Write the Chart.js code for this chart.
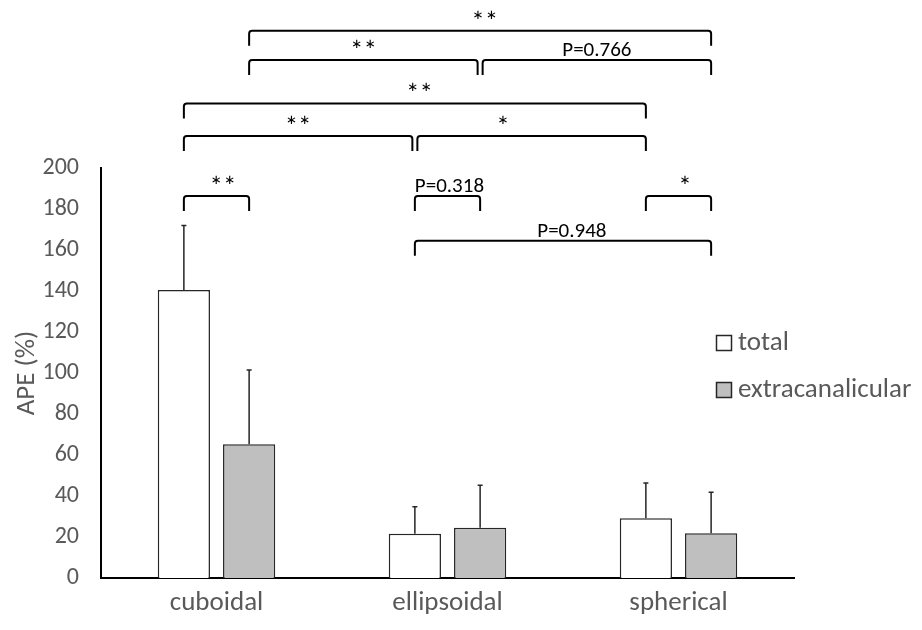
<!DOCTYPE html>
<html>
<head>
<meta charset="utf-8">
<script src="https://cdn.jsdelivr.net/npm/chart.js@4/dist/chart.umd.min.js"></script>
<style>
  body { margin: 0; background: #fff; }
  #wrap { width: 922px; height: 630px; }
</style>
</head>
<body>
<div id="wrap"><canvas id="chart" width="922" height="630"></canvas></div>
<script>
// values
let categories = ['cuboidal', 'ellipsoidal', 'spherical'];
let seriesNames = ['total', 'extracanalicular'];
let totalMean = [140.5, 21.6, 29.1];
let totalErr = [31.4, 13.2, 17.2];
let extraMean = [65.2, 24.5, 21.8];
let extraErr = [36.3, 20.7, 20.0];
let yTicks = [0, 20, 40, 60, 80, 100, 120, 140, 160, 180, 200];

// significance brackets: [category, series] to [category, series], height in APE units
let brackets = [
    { from: [0, 1], to: [2, 1], level: 267, text: '**', at: 0.51 },
    { from: [0, 1], to: [1, 1], level: 252.7, text: '**', at: 0.5 },
    { from: [1, 1], to: [2, 1], level: 252.7, text: 'P=0.766', at: 0.5 },
    { from: [0, 0], to: [2, 0], level: 231.5, text: '**', at: 0.51 },
    { from: [0, 0], to: [1, 0], level: 215.6, text: '**', at: 0.5 },
    { from: [1, 0], to: [2, 0], level: 215.6, text: '*', at: 0.375 },
    { from: [0, 0], to: [0, 1], level: 186.3, text: '**', at: 0.6 },
    { from: [1, 0], to: [1, 1], level: 186.3, text: 'P=0.318', at: 0.53 },
    { from: [2, 0], to: [2, 1], level: 186.3, text: '*', at: 0.6 },
    { from: [1, 0], to: [2, 1], level: 164.5, text: 'P=0.948', at: 0.53 }
];

const FONT = 'Carlito, Lato, sans-serif';
const GREY_TEXT = '#595959';

// error bars, upward only
const errorBars = {
    id: 'errorBars',
    afterDatasetsDraw(chart) {
        const ctx = chart.ctx;
        const y = chart.scales.y;
        const errs = [totalErr, extraErr];
        ctx.save();
        ctx.strokeStyle = '#262626';
        ctx.lineWidth = 1.5;
        chart.data.datasets.forEach((ds, di) => {
            chart.getDatasetMeta(di).data.forEach((bar, i) => {
                const top = y.getPixelForValue(ds.data[i] + errs[di][i]);
                ctx.beginPath();
                ctx.moveTo(bar.x, bar.y);
                ctx.lineTo(bar.x, top);
                ctx.moveTo(bar.x - 2.5, top);
                ctx.lineTo(bar.x + 2.5, top);
                ctx.stroke();
            });
        });
        ctx.restore();
    }
};

// brackets with p-values above the bars
const sigBrackets = {
    id: 'sigBrackets',
    afterDraw(chart) {
        const ctx = chart.ctx;
        const y = chart.scales.y;
        const barX = (p) => chart.getDatasetMeta(p[1]).data[p[0]].x;
        const same = (a, b) => a[0] === b[0] && a[1] === b[1];
        ctx.save();
        ctx.strokeStyle = '#000';
        ctx.lineWidth = 2;
        ctx.fillStyle = '#000';
        ctx.textAlign = 'center';
        ctx.textBaseline = 'alphabetic';
        brackets.forEach(b => {
            let x1 = barX(b.from);
            let x2 = barX(b.to);
            // leave a small gap where two brackets meet on one level
            brackets.forEach(o => {
                if (o === b || o.level !== b.level) return;
                if (same(o.to, b.from)) x1 += 2.5;
                if (same(o.from, b.to)) x2 -= 2.5;
            });
            const ly = y.getPixelForValue(b.level);
            const drop = 15, r = 3;
            ctx.beginPath();
            ctx.moveTo(x1, ly + drop);
            ctx.lineTo(x1, ly + r);
            ctx.arcTo(x1, ly, x1 + r, ly, r);
            ctx.lineTo(x2 - r, ly);
            ctx.arcTo(x2, ly, x2, ly + r, r);
            ctx.lineTo(x2, ly + drop);
            ctx.stroke();
            const stars = /^\*+$/.test(b.text);
            ctx.font = stars ? '27px ' + FONT : '21px ' + FONT;
            ctx.fillText(b.text, x1 + (x2 - x1) * b.at, stars ? ly - 1 : ly - 4);
        });
        ctx.restore();
    }
};

// legend drawn inside the plot, to the right
const sideLegend = {
    id: 'sideLegend',
    afterDraw(chart) {
        const ctx = chart.ctx;
        ctx.save();
        ctx.font = '27px ' + FONT;
        ctx.textBaseline = 'middle';
        ctx.textAlign = 'left';
        chart.data.datasets.forEach((ds, i) => {
            const cy = 343 + i * 47;
            ctx.fillStyle = ds.backgroundColor;
            ctx.fillRect(716.5, cy - 7.5, 15, 15);
            ctx.strokeStyle = '#262626';
            ctx.lineWidth = 1.5;
            ctx.strokeRect(716.5, cy - 7.5, 15, 15);
            ctx.fillStyle = GREY_TEXT;
            ctx.fillText(ds.label, 738, cy);
        });
        ctx.restore();
    }
};

new Chart(document.getElementById('chart'), {
    type: 'bar',
    data: {
        labels: categories,
        datasets: [
            {
                label: seriesNames[0],
                data: totalMean,
                backgroundColor: '#ffffff',
                borderColor: '#262626',
                borderWidth: 1.5
            },
            {
                label: seriesNames[1],
                data: extraMean,
                backgroundColor: '#bfbfbf',
                borderColor: '#262626',
                borderWidth: 1.5
            }
        ]
    },
    options: {
        responsive: false,
        animation: false,
        categoryPercentage: 0.565,
        barPercentage: 0.8,
        layout: { padding: { left: 0, right: 128, top: 168, bottom: 0 } },
        plugins: {
            legend: { display: false },
            tooltip: { enabled: false }
        },
        scales: {
            x: {
                grid: { display: false, drawTicks: false },
                border: { display: true, color: '#000', width: 2 },
                ticks: { color: GREY_TEXT, font: { family: FONT, size: 27 }, padding: 9 },
                afterFit(scale) { scale.height = 52; }
            },
            y: {
                min: 0,
                max: 200,
                afterBuildTicks(scale) { scale.ticks = yTicks.map(v => ({ value: v })); },
                grid: { display: false, drawTicks: false },
                border: { display: true, color: '#000', width: 2 },
                ticks: { color: GREY_TEXT, font: { family: FONT, size: 24 }, padding: 22 },
                title: {
                    display: true,
                    text: 'APE (%)',
                    color: GREY_TEXT,
                    font: { family: FONT, size: 27 },
                    padding: { top: 11, bottom: 0 }
                },
                afterFit(scale) { scale.width = 101; }
            }
        }
    },
    plugins: [errorBars, sigBrackets, sideLegend]
});
</script>
</body>
</html>
